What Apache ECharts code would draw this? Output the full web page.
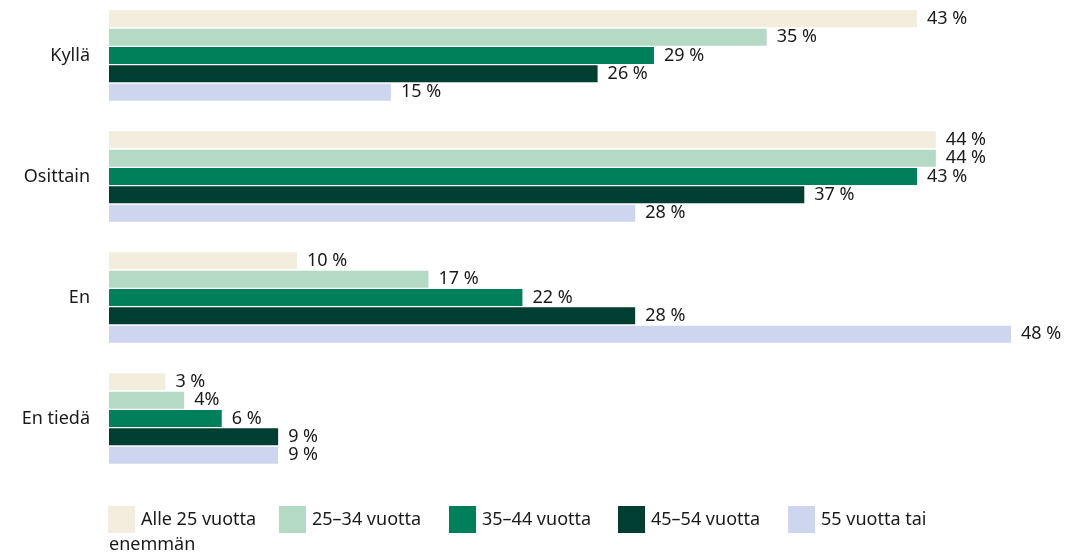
<!DOCTYPE html>
<html>
<head>
<meta charset="utf-8">
<script src="https://cdn.jsdelivr.net/npm/echarts@6/dist/echarts.min.js"></script>
<style>
  html, body { margin: 0; padding: 0; background: #fff; }
  #main { width: 1081px; height: 555px; }
</style>
</head>
<body>
<div id="main"></div>
<script>
// vastaukset
var categories = ['Kyllä', 'Osittain', 'En', 'En tiedä']
var seriesNames = ['Alle 25 vuotta', '25–34 vuotta', '35–44 vuotta', '45–54 vuotta', '55 vuotta tai enemmän']
var alle25 = [43, 44, 10, 3]
var v25_34 = [35, 44, 17, 4]
var v35_44 = [29, 43, 22, 6]
var v45_54 = [26, 37, 28, 9]
var yli55 = [15, 28, 48, 9]
var colors = ['#f3eddd', '#b4dac5', '#00805a', '#003e32', '#cdd6ee']

var font = 'Noto Sans'
var fs = 18
var values = [alle25, v25_34, v35_44, v45_54, yli55]
var legendLeft = [108, 279, 449, 618, 788]

var series = values.map(function (arr, i) {
  return {
    name: seriesNames[i],
    type: 'bar',
    barWidth: 17,
    barGap: '8%',
    itemStyle: { color: colors[i] },
    label: {
      show: true,
      position: 'right',
      distance: 10,
      color: '#1a1a1a',
      fontFamily: font,
      fontSize: fs,
      formatter: function (p) {
        // 25–34 / En tiedä on kuvassa ilman väliä
        if (p.seriesIndex === 1 && p.dataIndex === 3) return p.value + '%'
        return p.value + ' %'
      }
    },
    data: arr
  }
})

// yksi legendi per sarja, jotta paikat osuvat kuvaan
var legends = seriesNames.map(function (name, i) {
  return {
    left: legendLeft[i],
    top: 506,
    padding: 0,
    itemWidth: 27,
    itemHeight: 27,
    icon: 'rect',
    data: [name],
    textStyle: { color: '#1a1a1a', fontFamily: font, fontSize: fs, padding: [8, 0, 0, 1] },
    formatter: function (n) {
      return n === '55 vuotta tai enemmän' ? '55 vuotta tai' : n
    }
  }
})

var chart = echarts.init(document.getElementById('main'))
chart.setOption({
  animation: false,
  grid: { left: 109, top: -5, width: 902, height: 484, outerBoundsMode: 'none' },
  xAxis: {
    type: 'value',
    min: 0,
    max: 48,
    show: false
  },
  yAxis: {
    type: 'category',
    data: categories,
    inverse: true,
    axisLine: { show: false },
    axisTick: { show: false },
    axisLabel: { margin: 19, color: '#1a1a1a', fontFamily: font, fontSize: fs }
  },
  legend: legends,
  graphic: [{
    type: 'text',
    left: 109,
    top: 536,
    style: { text: 'enemmän', fill: '#1a1a1a', font: fs + 'px ' + font }
  }],
  series: series
})
</script>
</body>
</html>
